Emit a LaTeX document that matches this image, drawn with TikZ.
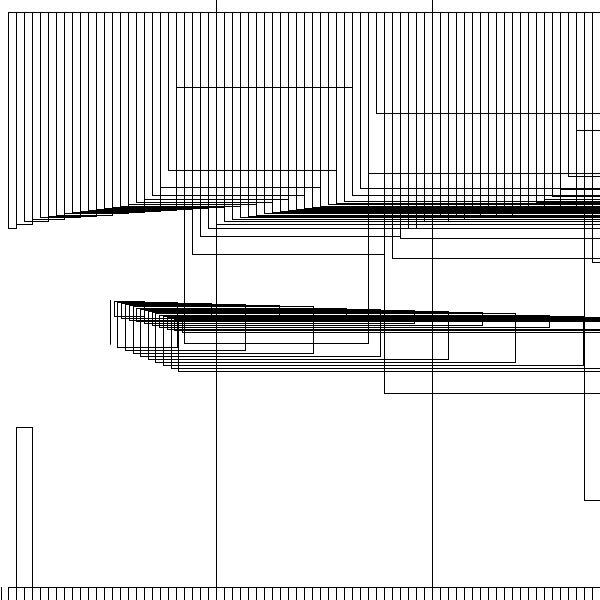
\documentclass[tikz,border=0pt]{standalone}
\usepackage{tikz}
\tikzset{
  barbox/.style={draw=black, line width=0.9pt},
  gridline/.style={draw=black, line width=0.9pt}
}
\begin{document}
\begin{tikzpicture}[x=1pt, y=-1pt]
\path[use as bounding box, fill=white] (0,0) rectangle (600,600);
\clip (0,0) rectangle (600,600);
\draw[gridline] (216,0) -- (216,587) (432,0) -- (432,587);
\foreach \b [count=\k from 0] in {228,224,221,219,217,216,215,213,212,211,210,209,208,207,206,204,202,199,195,187,170,
    87,343,254,236,
    228,224,221,219,217,216,215,213,212,211,210,209,208,207,206,204,203,201,195,188,173,
    113,393,258,238,
    228,224,221,219,217,216,215,213,212,211,210,209,208,207,206,204,202,199,196,189,176,
    130,500,262,240}
  \draw[barbox] ({8+8*\k},12) rectangle ({16+16*\k},\b);
\foreach \n in {0,...,19}{
  \pgfmathsetmacro{\lft}{110.3+3.8*\n}
  \pgfmathsetmacro{\rgt}{110.3+33.8*\n}
  \pgfmathsetmacro{\tp}{300+1.15*\n}
  \pgfmathsetmacro{\btm}{ifthenelse(mod(\n,2)==0,344.5+1.5*\n,315.5+0.9*\n)}
  \draw[barbox] (\lft,\tp) rectangle (\rgt,\btm);
}
\foreach \k in {0,...,74}{
  \pgfmathsetmacro{\cbot}{ifthenelse(\k==1,427,620)}
  \draw[barbox] ({8+8*\k},587) rectangle ({16+16*\k},\cbot);
}
\draw[barbox] (1,587) -- (1,600);
\end{tikzpicture}
\end{document}
